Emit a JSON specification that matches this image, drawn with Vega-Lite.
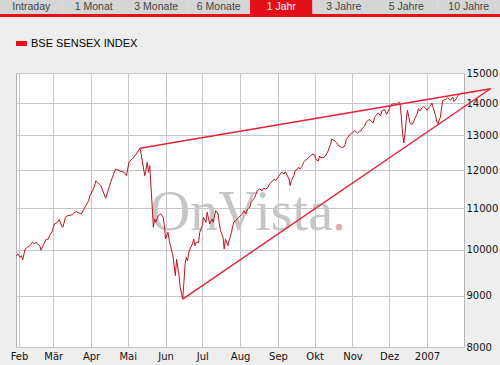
{
  "$schema": "https://vega.github.io/schema/vega-lite/v6.json",
  "background": "#eeeeee",
  "padding": 0,
  "spacing": 20,
  "resolve": {"scale": {"color": "independent", "fill": "independent"}, "legend": {"color": "independent", "fill": "independent"}},
  "config": {"view": {"stroke": null}, "font": "Liberation Sans"},
  "vconcat": [
    {
      "spacing": 0,
      "vconcat": [
        {
          "width": 500,
          "height": 14,
          "data": {"values": [
            {"tab": "Intraday", "sel": "no"},
            {"tab": "1 Monat", "sel": "no"},
            {"tab": "3 Monate", "sel": "no"},
            {"tab": "6 Monate", "sel": "no"},
            {"tab": "1 Jahr", "sel": "yes"},
            {"tab": "3 Jahre", "sel": "no"},
            {"tab": "5 Jahre", "sel": "no"},
            {"tab": "10 Jahre", "sel": "no"}
          ]},
          "encoding": {
            "x": {"field": "tab", "type": "nominal", "sort": null, "axis": null,
                  "scale": {"paddingInner": 0, "paddingOuter": 0}}
          },
          "resolve": {"scale": {"color": "independent", "fill": "independent"}},
          "layer": [
            {"mark": {"type": "bar"},
             "encoding": {"fill": {"field": "sel", "type": "nominal", "legend": null,
                                   "scale": {"domain": ["no", "yes"], "range": ["#d5d5d5", "#e3101a"]}}}},
            {"mark": {"type": "text", "fontSize": 10.5, "font": "Liberation Sans"},
             "encoding": {"text": {"field": "tab"},
                          "color": {"field": "sel", "type": "nominal", "legend": null,
                                    "scale": {"domain": ["no", "yes"], "range": ["#444444", "#ffffff"]}}}}
          ]
        },
        {
          "width": 500,
          "height": 3,
          "view": {"fill": "#e3101a", "stroke": null},
          "data": {"values": [{}]},
          "mark": {"type": "rect", "color": "#e3101a"}
        }
      ]
    },
    {
      "spacing": 0,
      "resolve": {"scale": {"color": "independent"}, "legend": {"color": "independent"}},
      "hconcat": [
        {
          "width": 9,
          "height": 274,
          "data": {"values": []},
          "mark": {"type": "rect", "color": "#eeeeee"}
        },
        {
          "width": 448,
          "height": 274,
          "view": {"fill": "#ffffff", "stroke": "#b4b4b4"},
          "layer": [
            {
              "data": {"values": [{}]},
              "mark": {"type": "text", "text": "OnVista", "font": "Liberation Serif", "fontSize": 56, "fill": "#c6c6c6", "align": "left", "baseline": "alphabetic"},
              "encoding": {
                "x": {"datum": {"year": 2006, "month": 5, "date": 19}, "type": "temporal"},
                "y": {"datum": 10465, "type": "quantitative"}
              }
            },
            {
              "data": {"values": [{}]},
              "mark": {"type": "text", "text": ".", "font": "Liberation Serif", "fontSize": 56, "fill": "#e8a8b2", "align": "left", "baseline": "alphabetic"},
              "encoding": {
                "x": {"datum": {"year": 2006, "month": 10, "date": 15, "hours": 5}, "type": "temporal"},
                "y": {"datum": 10465, "type": "quantitative"}
              }
            },
            {
              "data": {"values": [
                {"date":"2006/01/30","value":9865},{"date":"2006/01/31","value":9904},{"date":"2006/02/02","value":9829},{"date":"2006/02/03","value":9865},{"date":"2006/02/04","value":9767},{"date":"2006/02/06","value":10017},{"date":"2006/02/08","value":10057},{"date":"2006/02/10","value":10094},{"date":"2006/02/12","value":10172},{"date":"2006/02/14","value":10134},{"date":"2006/02/15","value":10172},{"date":"2006/02/16","value":10134},{"date":"2006/02/18","value":10094},{"date":"2006/02/19","value":9993},{"date":"2006/02/21","value":10110},{"date":"2006/02/23","value":10234},{"date":"2006/02/25","value":10250},{"date":"2006/02/26","value":10328},{"date":"2006/02/28","value":10424},
                {"date":"2006/03/02","value":10610},{"date":"2006/03/04","value":10634},{"date":"2006/03/06","value":10715},{"date":"2006/03/07","value":10634},{"date":"2006/03/08","value":10553},{"date":"2006/03/09","value":10530},{"date":"2006/03/11","value":10773},{"date":"2006/03/13","value":10813},{"date":"2006/03/16","value":10831},{"date":"2006/03/18","value":10881},{"date":"2006/03/20","value":10914},{"date":"2006/03/22","value":10881},{"date":"2006/03/24","value":10856},{"date":"2006/03/26","value":10964},{"date":"2006/03/28","value":11082},{"date":"2006/03/29","value":11133},{"date":"2006/03/30","value":11192},{"date":"2006/03/31","value":11320},
                {"date":"2006/04/03","value":11500},{"date":"2006/04/05","value":11715},{"date":"2006/04/09","value":11584},{"date":"2006/04/13","value":11252},{"date":"2006/04/17","value":11675},{"date":"2006/04/21","value":12035},{"date":"2006/04/24","value":11989},{"date":"2006/04/28","value":11945},{"date":"2006/04/30","value":11852},
                {"date":"2006/05/02","value":12223},{"date":"2006/05/05","value":12334},{"date":"2006/05/08","value":12457},{"date":"2006/05/11","value":12620},{"date":"2006/05/12","value":12457},{"date":"2006/05/14","value":12035},{"date":"2006/05/15","value":11852},{"date":"2006/05/17","value":12223},{"date":"2006/05/18","value":11945},{"date":"2006/05/19","value":12127},{"date":"2006/05/20","value":11584},{"date":"2006/05/21","value":11064},{"date":"2006/05/22","value":10530},{"date":"2006/05/23","value":10732},{"date":"2006/05/24","value":10650},{"date":"2006/05/26","value":10813},{"date":"2006/05/28","value":10856},{"date":"2006/05/30","value":10773},{"date":"2006/05/31","value":10568},
                {"date":"2006/06/01","value":10250},{"date":"2006/06/03","value":10410},{"date":"2006/06/04","value":10211},{"date":"2006/06/05","value":10094},{"date":"2006/06/07","value":9865},{"date":"2006/06/08","value":9642},{"date":"2006/06/09","value":9423},{"date":"2006/06/10","value":9790},{"date":"2006/06/12","value":9423},{"date":"2006/06/13","value":9175},{"date":"2006/06/15","value":8930},{"date":"2006/06/16","value":9282},{"date":"2006/06/17","value":9680},{"date":"2006/06/18","value":9829},{"date":"2006/06/19","value":9751},{"date":"2006/06/20","value":9943},{"date":"2006/06/21","value":10017},{"date":"2006/06/23","value":10134},{"date":"2006/06/24","value":10250},{"date":"2006/06/25","value":10094},{"date":"2006/06/26","value":10172},{"date":"2006/06/28","value":10172},{"date":"2006/06/29","value":10410},
                {"date":"2006/07/01","value":10568},{"date":"2006/07/02","value":10773},{"date":"2006/07/04","value":10650},{"date":"2006/07/05","value":10899},{"date":"2006/07/06","value":10773},{"date":"2006/07/07","value":10610},{"date":"2006/07/09","value":10732},{"date":"2006/07/10","value":10650},{"date":"2006/07/12","value":10939},{"date":"2006/07/14","value":10856},{"date":"2006/07/15","value":10610},{"date":"2006/07/16","value":10448},{"date":"2006/07/18","value":10290},{"date":"2006/07/19","value":10017},{"date":"2006/07/20","value":10250},{"date":"2006/07/22","value":10094},{"date":"2006/07/23","value":10211},{"date":"2006/07/25","value":10410},{"date":"2006/07/26","value":10568},{"date":"2006/07/27","value":10650},{"date":"2006/07/29","value":10715},{"date":"2006/07/31","value":10773},
                {"date":"2006/08/03","value":10856},{"date":"2006/08/04","value":10939},{"date":"2006/08/06","value":10856},{"date":"2006/08/07","value":10981},{"date":"2006/08/09","value":11023},{"date":"2006/08/10","value":11151},{"date":"2006/08/11","value":11192},{"date":"2006/08/13","value":11278},{"date":"2006/08/15","value":11451},{"date":"2006/08/17","value":11495},{"date":"2006/08/19","value":11451},{"date":"2006/08/20","value":11513},{"date":"2006/08/22","value":11495},{"date":"2006/08/24","value":11541},{"date":"2006/08/25","value":11629},{"date":"2006/08/27","value":11687},{"date":"2006/08/29","value":11761},{"date":"2006/08/30","value":11715},
                {"date":"2006/09/01","value":11808},{"date":"2006/09/03","value":11898},{"date":"2006/09/04","value":11945},{"date":"2006/09/06","value":11898},{"date":"2006/09/07","value":11962},{"date":"2006/09/08","value":11898},{"date":"2006/09/10","value":11761},{"date":"2006/09/11","value":11584},{"date":"2006/09/12","value":11715},{"date":"2006/09/14","value":11852},{"date":"2006/09/15","value":11989},{"date":"2006/09/17","value":12035},{"date":"2006/09/18","value":12082},{"date":"2006/09/19","value":12035},{"date":"2006/09/21","value":12127},{"date":"2006/09/22","value":12223},{"date":"2006/09/23","value":12265},{"date":"2006/09/25","value":12314},{"date":"2006/09/26","value":12362},{"date":"2006/09/28","value":12410},{"date":"2006/09/29","value":12457},
                {"date":"2006/10/01","value":12428},{"date":"2006/10/02","value":12305},{"date":"2006/10/04","value":12256},{"date":"2006/10/05","value":12400},{"date":"2006/10/06","value":12350},{"date":"2006/10/08","value":12350},{"date":"2006/10/10","value":12400},{"date":"2006/10/12","value":12540},{"date":"2006/10/14","value":12737},{"date":"2006/10/15","value":12883},{"date":"2006/10/17","value":12853},{"date":"2006/10/19","value":12784},{"date":"2006/10/21","value":12687},{"date":"2006/10/23","value":12640},{"date":"2006/10/25","value":12660},{"date":"2006/10/26","value":12737},{"date":"2006/10/27","value":12883},{"date":"2006/10/29","value":12982},{"date":"2006/10/30","value":13033},
                {"date":"2006/11/01","value":13081},{"date":"2006/11/03","value":13150},{"date":"2006/11/04","value":13107},{"date":"2006/11/05","value":13063},{"date":"2006/11/07","value":13132},{"date":"2006/11/08","value":13132},{"date":"2006/11/09","value":13212},{"date":"2006/11/11","value":13283},{"date":"2006/11/12","value":13380},{"date":"2006/11/13","value":13433},{"date":"2006/11/15","value":13487},{"date":"2006/11/16","value":13433},{"date":"2006/11/18","value":13380},{"date":"2006/11/19","value":13537},{"date":"2006/11/21","value":13644},{"date":"2006/11/22","value":13691},{"date":"2006/11/24","value":13591},{"date":"2006/11/25","value":13748},{"date":"2006/11/27","value":13802},{"date":"2006/11/28","value":13726},{"date":"2006/11/29","value":13644},
                {"date":"2006/12/01","value":13802},{"date":"2006/12/02","value":13907},{"date":"2006/12/03","value":13961},{"date":"2006/12/05","value":13981},{"date":"2006/12/07","value":13961},{"date":"2006/12/09","value":14035},{"date":"2006/12/10","value":13961},{"date":"2006/12/11","value":13559},{"date":"2006/12/12","value":13051},{"date":"2006/12/13","value":12775},{"date":"2006/12/14","value":13051},{"date":"2006/12/15","value":13455},{"date":"2006/12/16","value":13770},{"date":"2006/12/17","value":13582},{"date":"2006/12/18","value":13375},{"date":"2006/12/20","value":13335},{"date":"2006/12/21","value":13410},{"date":"2006/12/22","value":13506},{"date":"2006/12/24","value":13663},{"date":"2006/12/25","value":13823},{"date":"2006/12/26","value":13748},{"date":"2006/12/28","value":13853},{"date":"2006/12/29","value":13898},{"date":"2006/12/31","value":13823},
                {"date":"2007/01/01","value":13770},{"date":"2007/01/02","value":13823},{"date":"2007/01/04","value":13930},{"date":"2007/01/05","value":14003},{"date":"2007/01/06","value":13853},{"date":"2007/01/08","value":13614},{"date":"2007/01/09","value":13410},{"date":"2007/01/10","value":13353},{"date":"2007/01/12","value":13559},{"date":"2007/01/13","value":13874},{"date":"2007/01/14","value":14090},{"date":"2007/01/16","value":14110},{"date":"2007/01/17","value":14143},{"date":"2007/01/18","value":14176},{"date":"2007/01/20","value":14090},{"date":"2007/01/21","value":14143},{"date":"2007/01/22","value":14196},{"date":"2007/01/23","value":14053},{"date":"2007/01/25","value":14143},{"date":"2007/01/26","value":14219},{"date":"2007/01/27","value":14252},{"date":"2007/01/28","value":14285}
              ]},
              "mark": {"type": "line", "strokeWidth": 1, "interpolate": "linear"},
              "encoding": {
                "x": {"field": "date", "type": "temporal",
                      "scale": {"domain": [{"year": 2006, "month": 1, "date": 29, "hours": 13}, {"year": 2007, "month": 1, "date": 31, "hours": 7}]},
                      "axis": {"title": null, "orient": "bottom", "grid": true, "gridColor": "#c6c6c6", "ticks": false, "domain": false,
                               "labelPadding": 4, "labelFlush": false, "labelOverlap": false, "labelFontSize": 10, "labelFont": "DejaVu Sans", "labelColor": "#111111",
                               "values": [{"year":2006,"month":2,"date":1},{"year":2006,"month":3,"date":1},{"year":2006,"month":4,"date":1},{"year":2006,"month":5,"date":1},{"year":2006,"month":6,"date":1},{"year":2006,"month":7,"date":1},{"year":2006,"month":8,"date":1},{"year":2006,"month":9,"date":1},{"year":2006,"month":10,"date":1},{"year":2006,"month":11,"date":1},{"year":2006,"month":12,"date":1},{"year":2007,"month":1,"date":1}],
                               "labelExpr": "month(datum.value) == 0 ? timeFormat(datum.value, '%Y') : ['Jan','Feb','Mär','Apr','Mai','Jun','Jul','Aug','Sep','Okt','Nov','Dez'][month(datum.value)]",
                               "minExtent": 17, "maxExtent": 17}},
                "y": {"field": "value", "type": "quantitative",
                      "scale": {"type": "log", "domain": [8000, 15000], "nice": false},
                      "axis": {"title": null, "orient": "right", "grid": true, "gridColor": "#c6c6c6", "ticks": false, "domain": false,
                               "values": [8000, 9000, 10000, 11000, 12000, 13000, 14000, 15000], "format": "d",
                               "labelPadding": 2, "labelOverlap": false, "labelFontSize": 10, "labelFont": "DejaVu Sans", "labelColor": "#111111"}},
                "color": {"datum": "BSE SENSEX INDEX", "type": "nominal",
                          "scale": {"range": ["#bb1420"]},
                          "legend": {"title": null, "orient": "top", "offset": 24, "padding": 0,
                                     "labelFont": "Liberation Sans", "labelFontSize": 11, "labelColor": "#000000",
                                     "symbolType": "M-1,-0.45L1,-0.45L1,0.45L-1,0.45Z", "symbolSize": 121,
                                     "symbolFillColor": "#e3101a", "symbolStrokeColor": "#e3101a", "symbolStrokeWidth": 0}}
              }
            },
            {
              "data": {"values": [
                {"trend": "upper", "date": "2006/05/11", "value": 12620},
                {"trend": "upper", "date": "2007/02/22", "value": 14469},
                {"trend": "lower", "date": "2006/06/15", "value": 8930},
                {"trend": "lower", "date": "2007/02/22", "value": 14469}
              ]},
              "mark": {"type": "line", "strokeWidth": 1.4, "color": "#e8203a", "clip": false},
              "encoding": {
                "x": {"field": "date", "type": "temporal"},
                "y": {"field": "value", "type": "quantitative"},
                "detail": {"field": "trend"}
              }
            }
          ]
        }
      ]
    }
  ]
}
